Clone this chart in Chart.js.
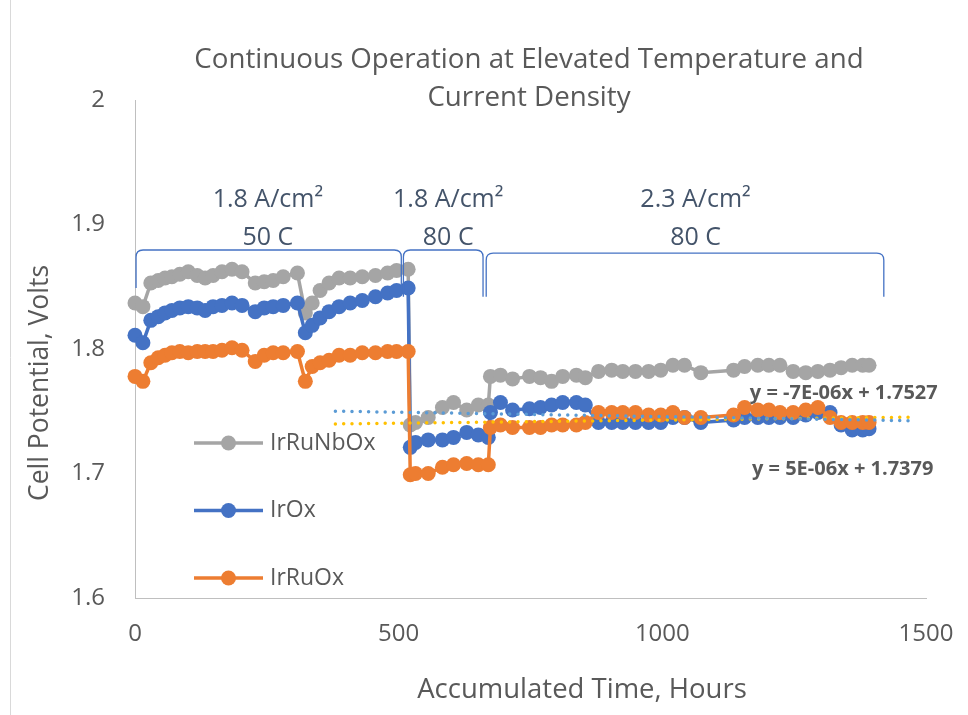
<!DOCTYPE html>
<html>
<head>
<meta charset="utf-8">
<script src="https://cdn.jsdelivr.net/npm/chart.js@4.4.1/dist/chart.umd.min.js"></script>
<style>
  html, body { margin: 0; padding: 0; background: #fff; }
  #wrap { width: 968px; height: 715px; }
</style>
</head>
<body>
<div id="wrap"><canvas id="chart" width="968" height="715"></canvas></div>
<script>
// accumulated time, hours (same sampling for all three cells)
const hours = [
  0, 15, 30, 44, 57, 70, 85, 101, 118, 133, 148, 165, 184, 203, 228, 245, 262, 281, 308, 323,
  336, 351, 368, 387, 408, 431, 456, 479, 496, 518,
  522, 532, 556, 583, 604, 629, 651, 670,
  674, 693, 716, 748, 769, 790, 811, 837, 854, 879, 904, 925, 949, 974, 997, 1020, 1042, 1073,
  1135, 1156, 1181, 1202, 1223, 1248, 1272, 1295, 1318, 1339, 1360, 1380, 1392
];

const irRuNbOx = [
  1.837, 1.834, 1.853, 1.855, 1.857, 1.858, 1.860, 1.862, 1.859, 1.857, 1.859, 1.862, 1.864, 1.862, 1.853,
  1.854, 1.855, 1.858, 1.861, 1.829, 1.837, 1.847, 1.853, 1.857, 1.857, 1.858, 1.859, 1.861, 1.863, 1.864,
  1.739, 1.741, 1.745, 1.753, 1.757, 1.751, 1.755, 1.755,
  1.778, 1.779, 1.776, 1.778, 1.777, 1.774, 1.778, 1.779, 1.777, 1.782, 1.783, 1.782, 1.782, 1.782, 1.783,
  1.787, 1.787, 1.781, 1.783, 1.786, 1.787, 1.787, 1.787, 1.782, 1.781, 1.782, 1.783, 1.785, 1.787, 1.787, 1.787
];

const irOx = [
  1.811, 1.805, 1.823, 1.826, 1.829, 1.831, 1.833, 1.834, 1.833, 1.831, 1.834, 1.835, 1.837, 1.835, 1.830,
  1.833, 1.834, 1.835, 1.837, 1.813, 1.819, 1.825, 1.830, 1.834, 1.837, 1.839, 1.842, 1.845, 1.847, 1.849,
  1.721, 1.725, 1.727, 1.727, 1.729, 1.733, 1.731, 1.729,
  1.749, 1.757, 1.751, 1.752, 1.753, 1.755, 1.757, 1.757, 1.755, 1.741, 1.741, 1.741, 1.741, 1.741, 1.741,
  1.745, 1.745, 1.741, 1.743, 1.745, 1.745, 1.745, 1.745, 1.745, 1.747, 1.749, 1.749, 1.739, 1.735, 1.735, 1.736
];

const irRuOx = [
  1.778, 1.774, 1.789, 1.793, 1.795, 1.797, 1.798, 1.797, 1.798, 1.798, 1.798, 1.799, 1.801, 1.799, 1.790,
  1.795, 1.797, 1.797, 1.798, 1.774, 1.786, 1.789, 1.791, 1.795, 1.795, 1.797, 1.797, 1.798, 1.798, 1.798,
  1.699, 1.700, 1.700, 1.705, 1.707, 1.708, 1.707, 1.707,
  1.737, 1.739, 1.737, 1.737, 1.737, 1.739, 1.739, 1.739, 1.741, 1.749, 1.749, 1.749, 1.749, 1.747, 1.747,
  1.749, 1.745, 1.745, 1.747, 1.753, 1.751, 1.751, 1.749, 1.749, 1.751, 1.753, 1.745, 1.741, 1.741, 1.741, 1.741
];

const seriesNames = ['IrRuNbOx', 'IrOx', 'IrRuOx'];
const seriesColors = ['#A5A5A5', '#4472C4', '#ED7D31'];

// linear trendlines as printed on the chart
const trendLabels = ['y = -7E-06x + 1.7527', 'y = 5E-06x + 1.7379'];
const trendSlope = [-7e-6, 5e-6];
const trendIntercept = [1.7527, 1.7379];
const trendColors = ['#5B9BD5', '#FFC000'];
const trendFrom = 380, trendTo = 1480;

const xTicks = [0, 500, 1000, 1500];
const yTicks = [1.6, 1.7, 1.8, 1.9, 2];

// operating conditions, bracketed over the runs
const phaseText = [['1.8 A/cm²', '50 C'], ['1.8 A/cm²', '80 C'], ['2.3 A/cm²', '80 C']];
const phaseFrom = [2, 509, 666];
const phaseTo = [505, 660, 1420];
const phaseMid = [252, 594, 1063];

const titleLines = ['Continuous Operation at Elevated Temperature and', 'Current Density'];
const FONT = '"Open Sans", "DejaVu Sans", sans-serif';
const TEXT = '#595959';

const toPoints = vals => vals.map((v, i) => ({x: hours[i], y: v}));
const trendPoints = i => [trendFrom, trendTo].map(h => ({x: h, y: trendSlope[i] * h + trendIntercept[i]}));

const seriesSets = [irRuNbOx, irOx, irRuOx].map((vals, i) => ({
  label: seriesNames[i],
  data: toPoints(vals),
  showLine: true,
  borderColor: seriesColors[i],
  backgroundColor: seriesColors[i],
  pointBackgroundColor: seriesColors[i],
  pointBorderColor: seriesColors[i],
  borderWidth: 3.5,
  pointRadius: 7.5,
  pointBorderWidth: 0,
  clip: false,
  order: 5 - i
}));

const trendSets = trendLabels.map((lab, i) => ({
  label: lab,
  data: trendPoints(i),
  showLine: true,
  borderColor: trendColors[i],
  borderWidth: 3.5,
  borderDash: [0, 8.3],
  borderCapStyle: 'round',
  pointRadius: 0,
  clip: false,
  order: 1 + i
}));

const overlay = {
  id: 'overlay',
  afterDraw(chart) {
    const {ctx, chartArea: a, scales: {x, y}} = chart;
    ctx.save();

    // outer frame edge
    ctx.strokeStyle = '#D9D9D9';
    ctx.lineWidth = 1;
    ctx.beginPath(); ctx.moveTo(10.5, 0); ctx.lineTo(10.5, 715); ctx.stroke();

    ctx.fillStyle = TEXT;
    ctx.textAlign = 'center';
    ctx.textBaseline = 'middle';
    ctx.font = '27.7px ' + FONT;
    ctx.fillText(titleLines[0], 529, 60);
    ctx.fillText(titleLines[1], 529, 98);

    ctx.font = '27.5px ' + FONT;
    ctx.fillText('Accumulated Time, Hours', 582, 690);
    ctx.font = '26.5px ' + FONT;
    ctx.save();
    ctx.translate(40, 383);
    ctx.rotate(-Math.PI / 2);
    ctx.fillText('Cell Potential, Volts', 0, 0);
    ctx.restore();

    // brackets + condition labels
    ctx.strokeStyle = '#4472C4';
    ctx.lineWidth = 1.3;
    const r = 7;
    phaseFrom.forEach((f, i) => {
      const x1 = x.getPixelForValue(f), x2 = x.getPixelForValue(phaseTo[i]);
      const yt = y.getPixelForValue(i === 2 ? 1.877 : 1.8795);
      const yb = y.getPixelForValue(i === 0 ? 1.849 : 1.842);
      ctx.beginPath();
      ctx.moveTo(x1, yb);
      ctx.lineTo(x1, yt + r);
      ctx.quadraticCurveTo(x1, yt, x1 + r, yt);
      ctx.lineTo(x2 - r, yt);
      ctx.quadraticCurveTo(x2, yt, x2, yt + r);
      ctx.lineTo(x2, yb);
      ctx.stroke();

      ctx.fillStyle = '#44546A';
      ctx.font = '25px ' + FONT;
      const mx = x.getPixelForValue(phaseMid[i]);
      ctx.fillText(phaseText[i][0], mx, y.getPixelForValue(1.9197));
      ctx.fillText(phaseText[i][1], mx, y.getPixelForValue(1.8892));
    });

    // trendline equations
    ctx.fillStyle = TEXT;
    ctx.font = 'bold 20px ' + FONT;
    ctx.textAlign = 'left';
    ctx.fillText(trendLabels[0], x.getPixelForValue(1166), y.getPixelForValue(1.7647));
    ctx.fillText(trendLabels[1], x.getPixelForValue(1170), y.getPixelForValue(1.7035));

    // legend inside the plot
    ctx.font = '23px ' + FONT;
    seriesNames.forEach((name, i) => {
      const ly = a.top + 343 + i * 67.5;
      const lx = a.left + 59;
      ctx.strokeStyle = seriesColors[i];
      ctx.lineWidth = 3.5;
      ctx.beginPath(); ctx.moveTo(lx, ly); ctx.lineTo(lx + 69, ly); ctx.stroke();
      ctx.fillStyle = seriesColors[i];
      ctx.beginPath(); ctx.arc(lx + 34.5, ly, 7.5, 0, Math.PI * 2); ctx.fill();
      ctx.fillStyle = TEXT;
      ctx.fillText(name, lx + 76, ly);
    });

    ctx.restore();
  }
};

const config = {
  type: 'scatter',
  data: {datasets: [...trendSets, ...seriesSets]},
  options: {
    responsive: false,
    animation: false,
    events: [],
    layout: {padding: {left: 0, right: 42, top: 100, bottom: 0}},
    plugins: {legend: {display: false}, title: {display: false}, tooltip: {enabled: false}},
    scales: {
      x: {
        type: 'linear',
        min: 0,
        max: 1500,
        afterBuildTicks: s => { s.ticks = xTicks.map(v => ({value: v})); },
        afterFit: s => { s.height = 117; s.paddingLeft = 0; s.paddingRight = 0; },
        grid: {display: false, drawTicks: false},
        border: {display: true, color: '#BFBFBF', width: 1},
        ticks: {color: TEXT, font: {family: FONT, size: 24}, padding: 22, maxRotation: 0, callback: v => String(v)}
      },
      y: {
        min: 1.6,
        max: 2,
        afterBuildTicks: s => { s.ticks = yTicks.map(v => ({value: v})); },
        afterFit: s => { s.width = 135; s.paddingTop = 0; s.paddingBottom = 0; },
        grid: {display: false, drawTicks: false},
        border: {display: true, color: '#BFBFBF', width: 1},
        ticks: {color: TEXT, font: {family: FONT, size: 24}, padding: 30, callback: v => String(+v.toFixed(1))}
      }
    }
  },
  plugins: [overlay]
};

const chart = new Chart(document.getElementById('chart'), config);
</script>
</body>
</html>
